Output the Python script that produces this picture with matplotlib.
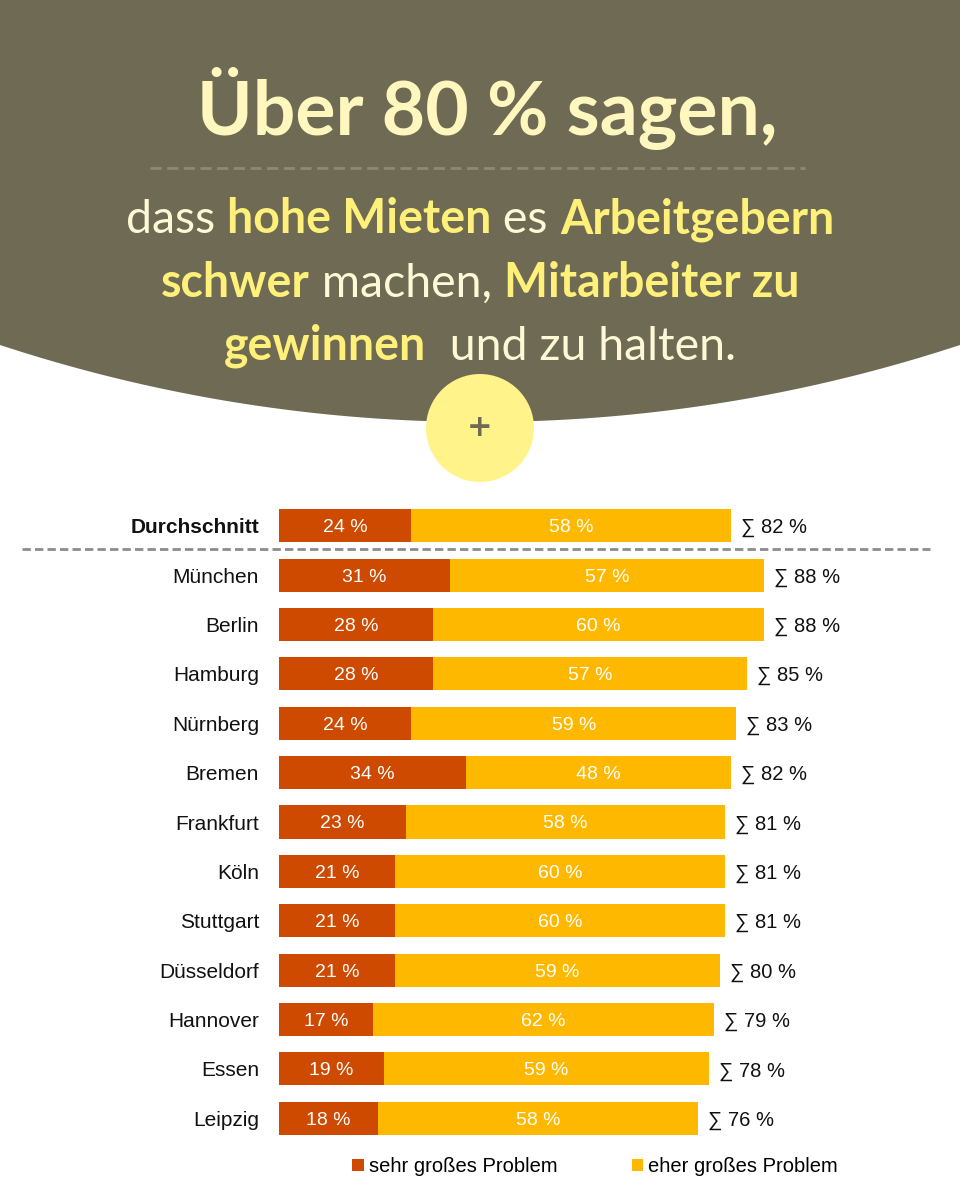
import numpy as np
import matplotlib
matplotlib.use("Agg")
import matplotlib.pyplot as plt
from matplotlib.patches import Polygon, Circle

# Daten
staedte = ["Durchschnitt", "München", "Berlin", "Hamburg", "Nürnberg", "Bremen",
           "Frankfurt", "Köln", "Stuttgart", "Düsseldorf", "Hannover", "Essen", "Leipzig"]
sehr_gross = [24, 31, 28, 28, 24, 34, 23, 21, 21, 21, 17, 19, 18]
eher_gross = [58, 57, 60, 57, 59, 48, 58, 60, 60, 59, 62, 59, 58]
summe = [82, 88, 88, 85, 83, 82, 81, 81, 81, 80, 79, 78, 76]

rot = "#CD4A00"
gelb = "#FFB800"
braun = "#6E6A53"

W, H = 960, 1200
fig = plt.figure(figsize=(W / 100, H / 100), dpi=100)
fig.patch.set_facecolor("white")

# Hintergrund in Pixelkoordinaten
bg = fig.add_axes([0, 0, 1, 1])
bg.set_xlim(0, W)
bg.set_ylim(H, 0)
bg.axis("off")

# Kopfbereich mit gebogener Unterkante
R = 1534
cy = 422 - R
xs = np.linspace(W, 0, 200)
ys = cy + np.sqrt(R ** 2 - (xs - 480) ** 2)
kopf = np.vstack([[[0, 0], [W, 0]], np.column_stack([xs, ys])])
bg.add_patch(Polygon(kopf, closed=True, facecolor=braun, edgecolor="none"))
bg.add_patch(Circle((480, 428), 54, facecolor="#FFF38A", edgecolor="none"))
bg.text(480, 428, "+", ha="center", va="center", fontsize=22, fontweight="bold",
        color=braun, family="DejaVu Sans")

titel_font = ["Lato", "DejaVu Sans"]
bg.text(487, 135, "Über 80 % sagen,", ha="center", va="baseline", fontsize=54,
        fontweight="bold", color="#FFF7BE", family=titel_font)
bg.plot([150, 805], [168, 168], color="#8E8A72", lw=2, ls=(0, (4, 2)))

creme = "#FFF8D6"
hell = "#FFF07A"
zeilen = [
    (233, [("dass ", False), ("hohe Mieten", True), (" es ", False), ("Arbeitgebern", True)]),
    (297, [("schwer", True), (" machen, ", False), ("Mitarbeiter zu", True)]),
    (360, [("gewinnen", True), ("  und zu halten.", False)]),
]
renderer = fig.canvas.get_renderer()
for base, teile in zeilen:
    objs = []
    for txt, fett in teile:
        t = bg.text(0, base, txt, ha="left", va="baseline", fontsize=33.5,
                    fontweight="bold" if fett else "normal",
                    color=hell if fett else creme, family=titel_font)
        objs.append(t)
    breiten = [o.get_window_extent(renderer).width for o in objs]
    x = 480 - sum(breiten) / 2
    for o, b in zip(objs, breiten):
        o.set_x(x)
        x += b

# Trennlinie unter Durchschnitt
bg.plot([22, 930], [549, 549], color="#8C8C8C", lw=2, ls=(0, (3, 1.5)))

# Balkendiagramm
px = 5.51
ax = fig.add_axes([279 / W, 1 - 1143 / H, (930 - 279) / W, (1143 - 501) / H])
ax.set_xlim(0, (930 - 279) / px)
ax.set_ylim(12.5, -0.5)
ax.axis("off")
ax.set_zorder(2)
ax.patch.set_alpha(0)

pos = np.arange(len(staedte))
b1 = ax.barh(pos, sehr_gross, height=0.67, color=rot, label="sehr großes Problem")
b2 = ax.barh(pos, eher_gross, left=sehr_gross, height=0.67, color=gelb,
             label="eher großes Problem")

schrift = ["Liberation Sans", "DejaVu Sans"]
for i in pos:
    ax.text(sehr_gross[i] / 2, i, f"{sehr_gross[i]} %", ha="center",
            va="center_baseline", color="white", fontsize=14, family=schrift)
    ax.text(sehr_gross[i] + eher_gross[i] / 2, i, f"{eher_gross[i]} %", ha="center",
            va="center_baseline", color="white", fontsize=14, family=schrift)
    ax.text(summe[i] + 10 / px, i, f"∑ {summe[i]} %", ha="left", va="center_baseline",
            color="#111111", fontsize=14.5, family=schrift)
    ax.text(-20 / px, i, staedte[i], ha="right", va="center_baseline", color="#111111",
            fontsize=15, family=schrift, fontweight="bold" if i == 0 else "normal")

fig.legend(handles=[b1, b2], loc="center", bbox_to_anchor=(595 / W, 1 - 1167 / H),
           ncol=2, frameon=False, handlelength=0.55, handleheight=0.55,
           handletextpad=0.25, columnspacing=3.7, prop={"family": schrift, "size": 14.5})

fig.savefig("out.png", dpi=100)
